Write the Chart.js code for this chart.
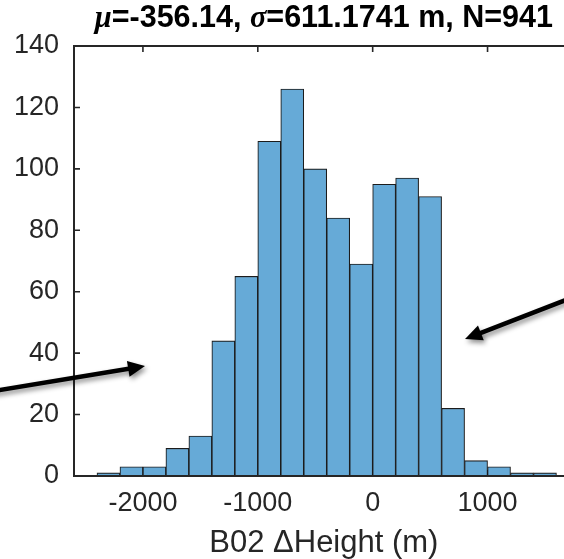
<!DOCTYPE html>
<html><head><meta charset="utf-8">
<script src="https://cdn.jsdelivr.net/npm/chart.js@4"></script>
<style>
html,body{margin:0;padding:0;overflow:hidden;background:#fff;width:564px;height:559px}
canvas{display:block}
</style></head>
<body>
<canvas id="c" width="600" height="570" style="width:600px;height:570px"></canvas>
<script>
// ---- data ----
const binCenters = [-2300,-2100,-1900,-1700,-1500,-1300,-1100,-900,-700,-500,-300,-100,100,300,500,700,900,1100,1300,1500];
const counts     = [1,3,3,9,13,44,65,109,126,100,84,69,95,97,91,22,5,3,1,1];
const xTicks = [-2000,-1000,0,1000];
const yTicks = [0,20,40,60,80,100,120,140];
const xRange = [-2600,1750];
const yRange = [0,140];
const titleParts = [['μ','sym'],['=-356.14, ','txt'],['σ','sym'],['=611.1741 m, N=941','txt']];
const xLabel = 'B02 \u0394Height (m)';
// annotation arrows, in data units (tail -> tip)
const arrowTails = [[-3600,25.8],[2150,64.1]];
const arrowTips  = [[-1982,35.8],[804,44.6]];

const axisColor = '#262626';
const sans = '"Liberation Sans", Arial, Helvetica, sans-serif';

const matlabAxes = {
  id: 'matlabAxes',
  beforeDatasetsDraw(chart) {
    const {ctx, chartArea: a, scales: {x, y}} = chart;
    ctx.save();
    ctx.strokeStyle = axisColor;
    ctx.lineWidth = 1.6;
    const L = 6;
    ctx.beginPath();
    xTicks.forEach(v => {
      const px = x.getPixelForValue(v);
      ctx.moveTo(px, a.top); ctx.lineTo(px, a.top + L);
      ctx.moveTo(px, a.bottom); ctx.lineTo(px, a.bottom - L);
    });
    yTicks.forEach(v => {
      const py = y.getPixelForValue(v);
      ctx.moveTo(a.left, py); ctx.lineTo(a.left + L, py);
      ctx.moveTo(a.right, py); ctx.lineTo(a.right - L, py);
    });
    ctx.stroke();
    ctx.restore();
  },
  afterDatasetsDraw(chart) {
    const {ctx, chartArea: a} = chart;
    ctx.save();
    ctx.strokeStyle = axisColor;
    ctx.lineWidth = 2;
    ctx.beginPath();
    ctx.rect(a.left, a.top, a.right - a.left, a.bottom - a.top);
    ctx.stroke();
    ctx.restore();
  },
  afterDraw(chart) {
    const {ctx, chartArea: a, scales: {x, y}} = chart;
    // title with italic Greek symbols
    ctx.save();
    const fonts = {txt: 'bold 30.5px ' + sans, sym: 'italic bold 30.5px "Liberation Serif", "DejaVu Serif", serif'};
    let total = 0;
    titleParts.forEach(([t, k]) => { ctx.font = fonts[k]; total += ctx.measureText(t).width; });
    let cx = (a.left + a.right) / 2 - total / 2;
    ctx.fillStyle = '#000';
    ctx.textBaseline = 'alphabetic';
    ctx.textAlign = 'left';
    titleParts.forEach(([t, k]) => { ctx.font = fonts[k]; ctx.fillText(t, cx, 27); cx += ctx.measureText(t).width; });
    ctx.restore();
    // annotation arrows
    arrowTails.forEach((tail, i) => {
      const tip = arrowTips[i];
      const x0 = x.getPixelForValue(tail[0]), y0 = y.getPixelForValue(tail[1]);
      const x1 = x.getPixelForValue(tip[0]),  y1 = y.getPixelForValue(tip[1]);
      const ang = Math.atan2(y1 - y0, x1 - x0);
      const hl = 17, hw = 8;
      const bx = x1 - hl * Math.cos(ang), by = y1 - hl * Math.sin(ang);
      ctx.save();
      ctx.shadowColor = 'rgba(0,0,0,0.45)';
      ctx.shadowBlur = 5; ctx.shadowOffsetX = 2; ctx.shadowOffsetY = 3;
      ctx.strokeStyle = '#000'; ctx.fillStyle = '#000';
      ctx.lineWidth = 4.5;
      ctx.beginPath(); ctx.moveTo(x0, y0); ctx.lineTo(bx + 2*Math.cos(ang), by + 2*Math.sin(ang)); ctx.stroke();
      ctx.beginPath();
      ctx.moveTo(x1, y1);
      ctx.lineTo(bx - hw * Math.sin(ang), by + hw * Math.cos(ang));
      ctx.lineTo(bx + hw * Math.sin(ang), by - hw * Math.cos(ang));
      ctx.closePath(); ctx.fill();
      ctx.restore();
    });
  }
};

new Chart(document.getElementById('c'), {
  type: 'bar',
  data: {
    datasets: [{
      data: binCenters.map((c, i) => ({x: c, y: counts[i]})),
      backgroundColor: 'rgb(102,170,215)',
      borderColor: '#1c1c1c',
      borderWidth: 1.1,
      borderSkipped: false,
      barPercentage: 1,
      categoryPercentage: 1
    }]
  },
  options: {
    responsive: false,
    animation: false,
    events: [],
    layout: {padding: {left: 0, right: 26.3, top: 46, bottom: 0}},
    plugins: {legend: {display: false}, tooltip: {enabled: false}, title: {display: false}},
    scales: {
      x: {
        type: 'linear', offset: false,
        min: xRange[0], max: xRange[1],
        grid: {display: false, drawTicks: false},
        border: {display: false},
        afterBuildTicks: s => { s.ticks = xTicks.map(v => ({value: v})); },
        afterFit: s => { s.height = 94; },
        ticks: {padding: 11, color: axisColor, font: {family: sans, size: 27}, maxRotation: 0, autoSkip: false,
                callback: v => String(v)},
        title: {display: true, text: xLabel, color: axisColor, font: {family: sans, size: 31},
                padding: {top: 0, bottom: 8}}
      },
      y: {
        min: yRange[0], max: yRange[1],
        grid: {display: false, drawTicks: false},
        border: {display: false},
        afterBuildTicks: s => { s.ticks = yTicks.map(v => ({value: v})); },
        afterFit: s => { s.width = 74; },
        ticks: {padding: 15, color: axisColor, font: {family: sans, size: 27}, autoSkip: false,
                callback: v => String(v)}
      }
    }
  },
  plugins: [matlabAxes]
});
</script>
</body></html>
